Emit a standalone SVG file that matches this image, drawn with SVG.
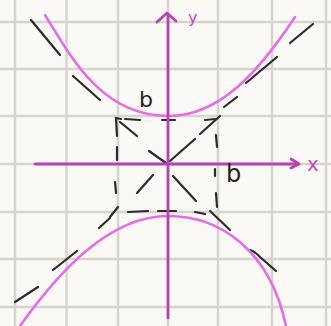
<svg xmlns="http://www.w3.org/2000/svg" width="331" height="326" viewBox="0 0 331 326">
<style>
.grid line{stroke:#d7d4cf;stroke-width:2.5}
.dash{stroke:#2b2b2b;stroke-width:2.2;stroke-linecap:round;fill:none}
.curve{stroke:#e66be6;stroke-width:2.6;fill:none;stroke-linecap:round}
.axis{stroke:#b543b5;stroke-width:2.8;fill:none;stroke-linecap:round;stroke-linejoin:round}
.lbl{font-family:"DejaVu Sans",sans-serif;fill:#222}
.albl{font-family:"DejaVu Sans",sans-serif;fill:#c04ac0}
</style>
<rect width="331" height="326" fill="#fbf9f5"/>
<g class="grid" id="grid">
<line x1="15" y1="0" x2="15" y2="326"/>
<line x1="66.5" y1="0" x2="66.5" y2="326"/>
<line x1="118" y1="0" x2="118" y2="326"/>
<line x1="168" y1="0" x2="168" y2="326"/>
<line x1="218" y1="0" x2="218" y2="326"/>
<line x1="272" y1="0" x2="272" y2="326"/>
<line x1="326" y1="0" x2="326" y2="326"/>
<line x1="0" y1="22" x2="331" y2="22"/>
<line x1="0" y1="69" x2="331" y2="69"/>
<line x1="0" y1="116" x2="331" y2="116"/>
<line x1="0" y1="164" x2="331" y2="164"/>
<line x1="0" y1="212" x2="331" y2="212"/>
<line x1="0" y1="259" x2="331" y2="259"/>
<line x1="0" y1="307" x2="331" y2="307"/>
</g>
<g id="asymptotes" class="dash">
<path d="M31,20 L60,55"/>
<path d="M73,76 L100,100"/>
<path d="M120,122 L137,136"/>
<path d="M149,151 L166,163"/>
<path d="M173,176 L196,201"/>
<path d="M210,211 L230,230"/>
<path d="M250,250 Q254,251 260,257 L276,271"/>
<path d="M290,43 L313,24"/>
<path d="M246,83 L277,57"/>
<path d="M224,107 L237,97"/>
<path d="M200,134 L220,116"/>
<path d="M170,161 L195,139"/>
<path d="M137,193 L153,175"/>
<path d="M110,217 L118,207"/>
<path d="M99,228 L110,218"/>
<path d="M53,270 L77,251"/>
<path d="M15,302 L38,287"/>
</g>
<g id="box" class="dash">
<path d="M117,136 L116,118 L121,119"/>
<path d="M125,119 L140,120"/>
<path d="M162,120 L175,120"/>
<path d="M205,120 L215,119"/>
<path d="M216,135 L217,147"/>
<path d="M215,169 L215,176"/>
<path d="M216,193 L217,207"/>
<path d="M117,147 L117,160"/>
<path d="M115,182 L116,193"/>
<path d="M128,212 L148,211"/>
<path d="M158,211 L176,211"/>
<path d="M195,212 L205,214"/>
</g>
<g id="hyperbola">
<path class="curve" d="M45,15 C70,55 100,115 167,116 C220,117 260,70 295,17"/>
<path class="curve" d="M20,326 C60,270 110,216 168,216 C220,216 270,250 286,326"/>
</g>
<g id="axes">
<path class="axis" d="M35,164 H298"/>
<path class="axis" d="M291,159 L299,164 L291,168"/>
<path class="axis" d="M168,15 V318"/>
<path class="axis" d="M157,22 L167,13 L176,21"/>
<text class="albl" x="188" y="23" font-size="16">y</text>
<text class="albl" x="307" y="171" font-size="20">x</text>
</g>
<g id="labels">
<text class="lbl" x="139" y="107" font-size="22">b</text>
<text class="lbl" x="226" y="182" font-size="24">b</text>
</g>
</svg>
